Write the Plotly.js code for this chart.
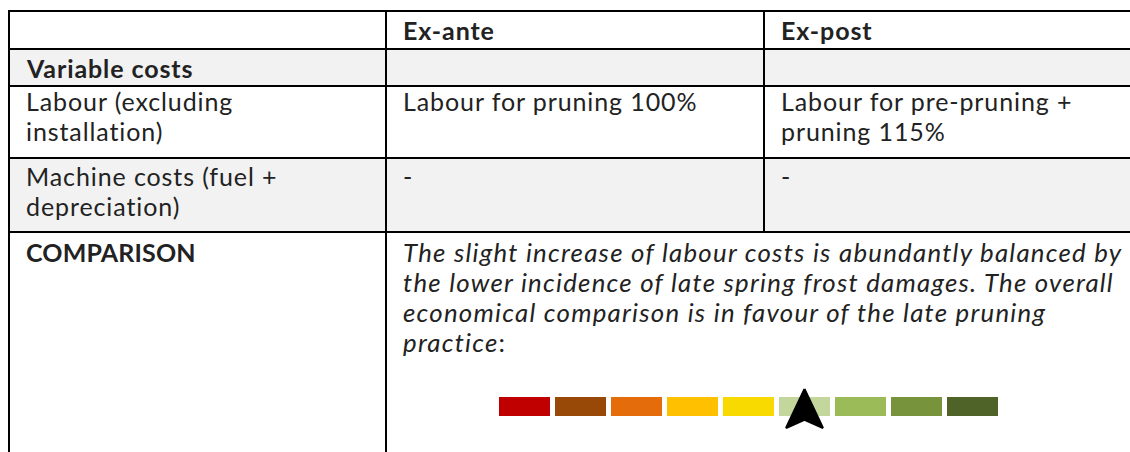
<!DOCTYPE html>
<html><head><meta charset="utf-8">
<script src="https://cdn.plot.ly/plotly-3.0.1.min.js"></script>
<style>html,body{margin:0;padding:0;background:#fff;} #chart{width:1130px;height:452px;}</style>
</head><body><div id="chart"></div>
<script>
// ---- data ----
const columnHeaders = ['', 'Ex-ante', 'Ex-post'];
const sectionLabel = 'Variable costs';
const rowLabels = [['Labour (excluding', 'installation)'], ['Machine costs (fuel +', 'depreciation)']];
const exAnteValues = [['Labour for pruning 100%'], ['-']];
const exPostValues = [['Labour for pre-pruning +', 'pruning 115%'], ['-']];
const comparisonLabel = 'COMPARISON';
const comparisonLines = [
  'The slight increase of labour costs is abundantly balanced by',
  'the lower incidence of late spring frost damages. The overall',
  'economical comparison is in favour of the late pruning',
  'practice'
];
const comparisonSuffix = ':';
const scaleLevels = [1, 2, 3, 4, 5, 6, 7, 8, 9];
const scaleColors = ['#C00000', '#984807', '#E46C0A', '#FFC000', '#F9DA00', '#C3D69B', '#9BBB59', '#77933C', '#4F6228'];
const arrowLevel = 6;

// ---- layout geometry ----
const W = 1130, H = 452;
const colEdges = [9, 386, 764, 1140];
const rowEdges = [11, 49, 86, 158, 232, 470];
const rowFirstLine = [19, 19, 14.5, 18, 19.5];
const shadedRows = [1, 3];
const textPad = 15;
const lineStep = 30;
const FONT = 'Lato, "Open Sans", sans-serif';
const FS = 25, FS_IT = 25.8;
const LS = 0.9, LS_IT = 1.25, LS_CAPS = 0.15;
const TXT = '#222222';

const shapes = [];
shadedRows.forEach(r => shapes.push({type: 'rect', xref: 'x', yref: 'y', layer: 'below',
  x0: colEdges[0], x1: colEdges[3], y0: rowEdges[r], y1: rowEdges[r + 1],
  fillcolor: '#F2F2F2', line: {width: 0}}));
const lineStyle = {color: '#000000', width: 2};
rowEdges.slice(0, 5).forEach(y => shapes.push({type: 'line', xref: 'x', yref: 'y',
  x0: colEdges[0] - 1, x1: colEdges[3], y0: y, y1: y, line: lineStyle}));
shapes.push({type: 'line', xref: 'x', yref: 'y', x0: colEdges[0], x1: colEdges[0], y0: rowEdges[0], y1: rowEdges[5], line: lineStyle});
shapes.push({type: 'line', xref: 'x', yref: 'y', x0: colEdges[1], x1: colEdges[1], y0: rowEdges[0], y1: rowEdges[5], line: lineStyle});
shapes.push({type: 'line', xref: 'x', yref: 'y', x0: colEdges[2], x1: colEdges[2], y0: rowEdges[0], y1: rowEdges[4], line: lineStyle});

const annotations = [];
function addText(col, row, lines, wrap, size, ls) {
  lines.forEach((t, i) => annotations.push({
    xref: 'x', yref: 'y', x: colEdges[col] + textPad, y: rowEdges[row] + rowFirstLine[row] + i * lineStep,
    xanchor: 'left', yanchor: 'middle', showarrow: false,
    text: '<span style="letter-spacing:' + (ls === undefined ? LS : ls) + 'px">' + (wrap ? wrap(t, i) : t) + '</span>',
    font: {family: FONT, size: size || FS, color: TXT}
  }));
}
const bold = t => '<b>' + t + '</b>';
columnHeaders.forEach((h, c) => { if (h) addText(c, 0, [h], bold); });
addText(0, 1, [sectionLabel], bold);
rowLabels.forEach((lines, r) => addText(0, 2 + r, lines));
exAnteValues.forEach((lines, r) => addText(1, 2 + r, lines));
exPostValues.forEach((lines, r) => addText(2, 2 + r, lines));
addText(0, 4, [comparisonLabel], bold, FS, LS_CAPS);
addText(1, 4, comparisonLines, (t, i) => '<i>' + t + '</i>' + (i === comparisonLines.length - 1 ? comparisonSuffix : ''), FS_IT, LS_IT);

// colour scale + arrow (axis 2)
const barTrace = {
  type: 'bar', xaxis: 'x2', yaxis: 'y2',
  x: scaleLevels, y: scaleLevels.map(() => 1),
  marker: {color: scaleColors, line: {width: 0}},
  hoverinfo: 'skip', showlegend: false
};
const aw = 0.33, tipY = 1.42, baseY = -0.63, notchY = -0.2;
const arrowTrace = {
  type: 'scatter', mode: 'lines', xaxis: 'x2', yaxis: 'y2',
  x: [arrowLevel, arrowLevel + aw, arrowLevel, arrowLevel - aw, arrowLevel],
  y: [tipY, baseY, notchY, baseY, tipY],
  fill: 'toself', fillcolor: '#000000', line: {color: '#000000', width: 2},
  hoverinfo: 'skip', showlegend: false
};

const layout = {
  width: W, height: H, margin: {l: 0, r: 0, t: 0, b: 0},
  paper_bgcolor: '#FFFFFF', plot_bgcolor: 'rgba(0,0,0,0)',
  showlegend: false, bargap: 5 / 56,
  xaxis: {range: [0, W], visible: false, fixedrange: true, domain: [0, 1]},
  yaxis: {range: [H, 0], visible: false, fixedrange: true, domain: [0, 1]},
  xaxis2: {range: [0.5, 9.5], visible: false, fixedrange: true, domain: [496.5 / W, 1000.5 / W], anchor: 'y2'},
  yaxis2: {range: [-0.7368, 1.6316], visible: false, fixedrange: true, domain: [22 / H, 67 / H], anchor: 'x2'},
  shapes: shapes, annotations: annotations
};
Plotly.newPlot('chart', [barTrace, arrowTrace], layout, {staticPlot: true, displayModeBar: false});
</script>
</body></html>
